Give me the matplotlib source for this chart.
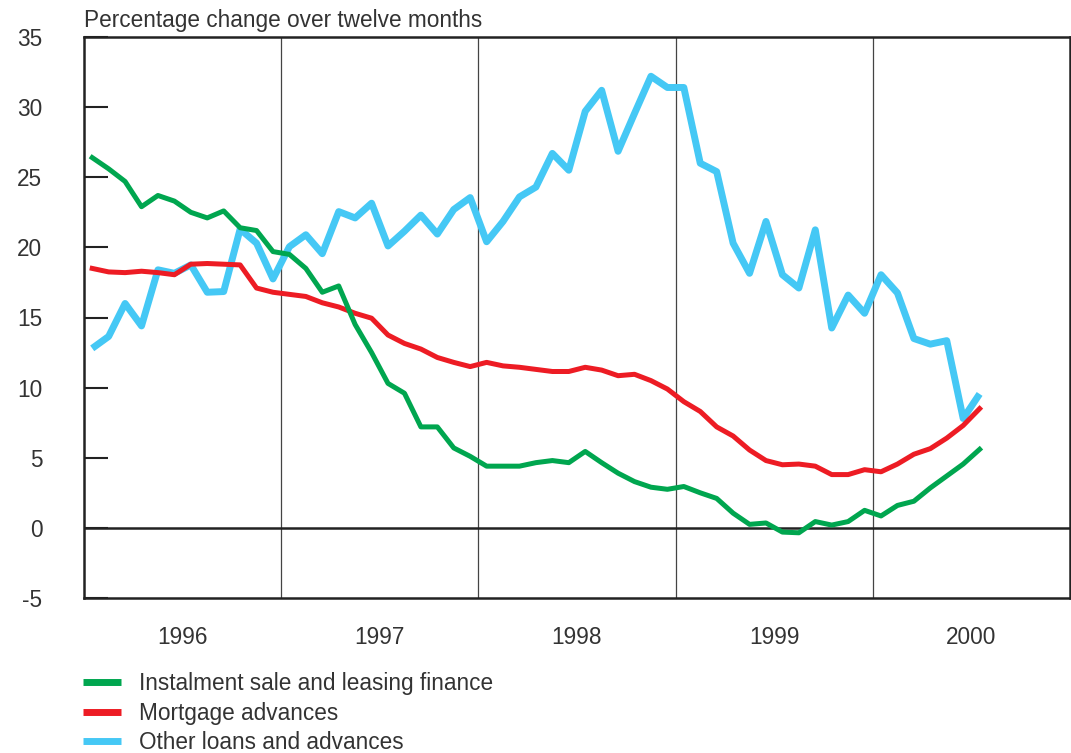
import numpy as np
import matplotlib.pyplot as plt

plt.rcParams['font.family'] = ['Liberation Sans', 'DejaVu Sans']

# monthly observations, Jan 1996 - Jul 2000
start_year = 1996
n_months = 55

instalment = [26.4, 25.6, 24.7, 22.9, 23.7, 23.3, 22.5, 22.1, 22.6, 21.4,
              21.2, 19.7, 19.5, 18.5, 16.8, 17.25, 14.5, 12.5, 10.3, 9.6,
              7.2, 7.2, 5.7, 5.1, 4.4, 4.4, 4.4, 4.65, 4.8, 4.65,
              5.45, 4.65, 3.9, 3.3, 2.9, 2.75, 2.95, 2.5, 2.1, 1.05,
              0.25, 0.35, -0.3, -0.35, 0.45, 0.2, 0.45, 1.25, 0.85, 1.6,
              1.9, 2.85, 3.7, 4.55, 5.6]
mortgage = [18.5, 18.25, 18.2, 18.3, 18.2, 18.05, 18.8, 18.85, 18.8, 18.75,
            17.1, 16.8, 16.65, 16.5, 16.05, 15.75, 15.3, 14.95, 13.75, 13.15,
            12.75, 12.15, 11.8, 11.5, 11.8, 11.55, 11.45, 11.3, 11.15, 11.15,
            11.45, 11.25, 10.85, 10.95, 10.5, 9.9, 9.0, 8.3, 7.2, 6.55,
            5.55, 4.8, 4.5, 4.55, 4.4, 3.8, 3.8, 4.15, 4.0, 4.55,
            5.25, 5.65, 6.4, 7.3, 8.5]
other = [12.8, 13.65, 16.0, 14.4, 18.4, 18.15, 18.75, 16.8, 16.85, 21.3,
         20.3, 17.75, 20.05, 20.9, 19.55, 22.55, 22.1, 23.15, 20.1, 21.15,
         22.3, 20.95, 22.7, 23.55, 20.4, 21.85, 23.6, 24.3, 26.7, 25.5,
         29.7, 31.2, 26.85, 29.55, 32.2, 31.4, 31.4, 26.0, 25.4, 20.3,
         18.15, 21.85, 18.05, 17.1, 21.25, 14.25, 16.6, 15.3, 18.05, 16.75,
         13.5, 13.1, 13.35, 7.8, 9.55]

years = [1996, 1997, 1998, 1999, 2000]
yticks = [-5, 0, 5, 10, 15, 20, 25, 30, 35]

green = '#00a64f'
red = '#ed1c24'
blue = '#45c8f5'
txt = '#333333'
fs = 16.3

x = start_year + (np.arange(n_months) + 0.5) / 12

fig = plt.figure(figsize=(10.71, 7.53), dpi=100)
ax = fig.add_axes([84 / 1071, 1 - 598 / 753, (1070 - 84) / 1071, (598 - 37) / 753])

# year separators and zero line
for yr in years[1:]:
    ax.axvline(yr, color='#444444', linewidth=0.9, zorder=1)
ax.axhline(0, color='#222222', linewidth=1.8, zorder=1)

ax.plot(x, other, color=blue, linewidth=5, solid_capstyle='butt',
        label='Other loans and advances', zorder=3)
ax.plot(x, mortgage, color=red, linewidth=3.6,
        label='Mortgage advances', zorder=4)
ax.plot(x, instalment, color=green, linewidth=3.6,
        label='Instalment sale and leasing finance', zorder=5)

ax.set_xlim(1996, 2001)
ax.set_ylim(-5, 35)
ax.set_yticks(yticks)
ax.set_yticklabels([str(v) for v in yticks])
ax.tick_params(axis='y', direction='in', length=17, width=1.5, color='#222222',
               labelsize=fs, labelcolor=txt, pad=30)
ax.set_xticks([y + 0.5 for y in years])
ax.set_xticklabels([str(y) for y in years])
ax.tick_params(axis='x', length=0, labelsize=fs, labelcolor=txt, pad=20)

for s in ax.spines.values():
    s.set_color('#222222')
    s.set_linewidth(1.8)

fig.text(84 / 1071, 1 - 20 / 753, 'Percentage change over twelve months',
         fontsize=fs, color=txt, ha='left', va='center')

# legend in the order green, red, blue
h, l = ax.get_legend_handles_labels()
order = [2, 1, 0]
leg = fig.legend([h[i] for i in order], [l[i] for i in order],
                 loc='upper left', bbox_to_anchor=(72 / 1071, 1 - 661 / 753),
                 frameon=False, fontsize=fs, handlelength=1.68, handletextpad=0.8,
                 labelspacing=0.28, borderpad=0, labelcolor=txt)
for line in leg.get_lines():
    line.set_linewidth(5)
    line.set_solid_capstyle('butt')

fig.savefig('out.png', dpi=100)
